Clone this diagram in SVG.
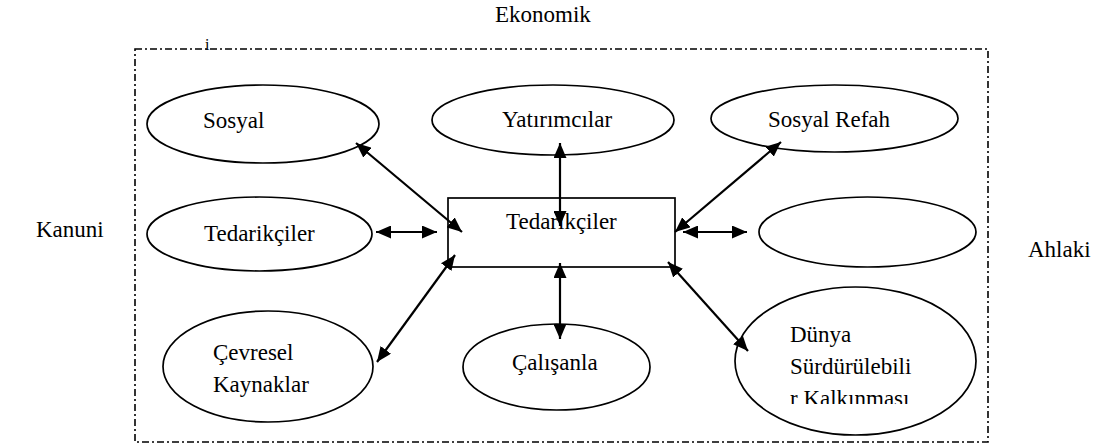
<svg xmlns="http://www.w3.org/2000/svg" width="1113" height="445" viewBox="0 0 1113 445">
<style>
text{font-family:"Liberation Serif","Times New Roman",serif;font-size:23px;fill:#000}
.n{fill:#fff;stroke:#000;stroke-width:1.7}
.c{stroke:#000;stroke-width:2.2;fill:none;marker-start:url(#ah);marker-end:url(#ah)}
.frame{fill:none;stroke:#000;stroke-width:1.6;stroke-dasharray:7 3 2 3}
</style>
<defs>
<marker id="ah" markerUnits="userSpaceOnUse" markerWidth="15" markerHeight="13" refX="15" refY="6.5" orient="auto-start-reverse">
<path d="M0,0 L15,6.5 L0,13 z" fill="#000"/>
</marker>
<clipPath id="clipD"><rect x="740" y="290" width="240" height="114"/></clipPath>
</defs>
<rect class="frame" x="135" y="49" width="853" height="393"/>
<text x="495" y="22">Ekonomik</text>
<text x="205" y="50" style="font-size:16px">i</text>
<text x="36" y="237">Kanuni</text>
<text x="1028" y="257">Ahlaki</text>
<g id="sosyal"><ellipse class="n" cx="263" cy="124" rx="116" ry="39"/><text x="203" y="128">Sosyal</text></g>
<g id="yatirimcilar"><ellipse class="n" cx="553" cy="120" rx="121" ry="35"/><text x="502" y="127">Yatırımcılar</text></g>
<g id="sosyalrefah"><ellipse class="n" cx="834.5" cy="118.5" rx="123.5" ry="33.5"/><text x="768" y="127">Sosyal Refah</text></g>
<g id="merkez"><rect class="n" x="448" y="198" width="227" height="69"/><text x="506" y="229">Tedarikçiler</text></g>
<g id="tedarikciler"><ellipse class="n" cx="259.5" cy="234" rx="112.5" ry="37"/><text x="204" y="241">Tedarikçiler</text></g>
<g id="bos"><ellipse class="n" cx="867.5" cy="232" rx="108.5" ry="35"/></g>
<g id="cevresel"><ellipse class="n" cx="268" cy="366.5" rx="105" ry="55.5"/><text x="213" y="360">Çevresel</text><text x="213" y="392">Kaynaklar</text></g>
<g id="calisanla"><ellipse class="n" cx="556.5" cy="367" rx="93.5" ry="43"/><text x="512" y="370">Çalışanla</text></g>
<g id="dunya"><ellipse class="n" cx="855.5" cy="361" rx="120.5" ry="74"/><g clip-path="url(#clipD)"><text x="790" y="342">Dünya</text><text x="790" y="374">Sürdürülebili</text><text x="790" y="406">r Kalkınması</text></g></g>
<g id="connectors">
<line class="c" x1="356" y1="143" x2="462" y2="232"/>
<line class="c" x1="560" y1="143" x2="560" y2="226"/>
<line class="c" x1="781" y1="142" x2="675" y2="232"/>
<line class="c" x1="376" y1="232" x2="437" y2="232"/>
<line class="c" x1="683" y1="232" x2="747" y2="232"/>
<line class="c" x1="377" y1="362" x2="455" y2="255"/>
<line class="c" x1="560" y1="263" x2="560" y2="339"/>
<line class="c" x1="668" y1="262" x2="748" y2="351"/>
</g>
</svg>
